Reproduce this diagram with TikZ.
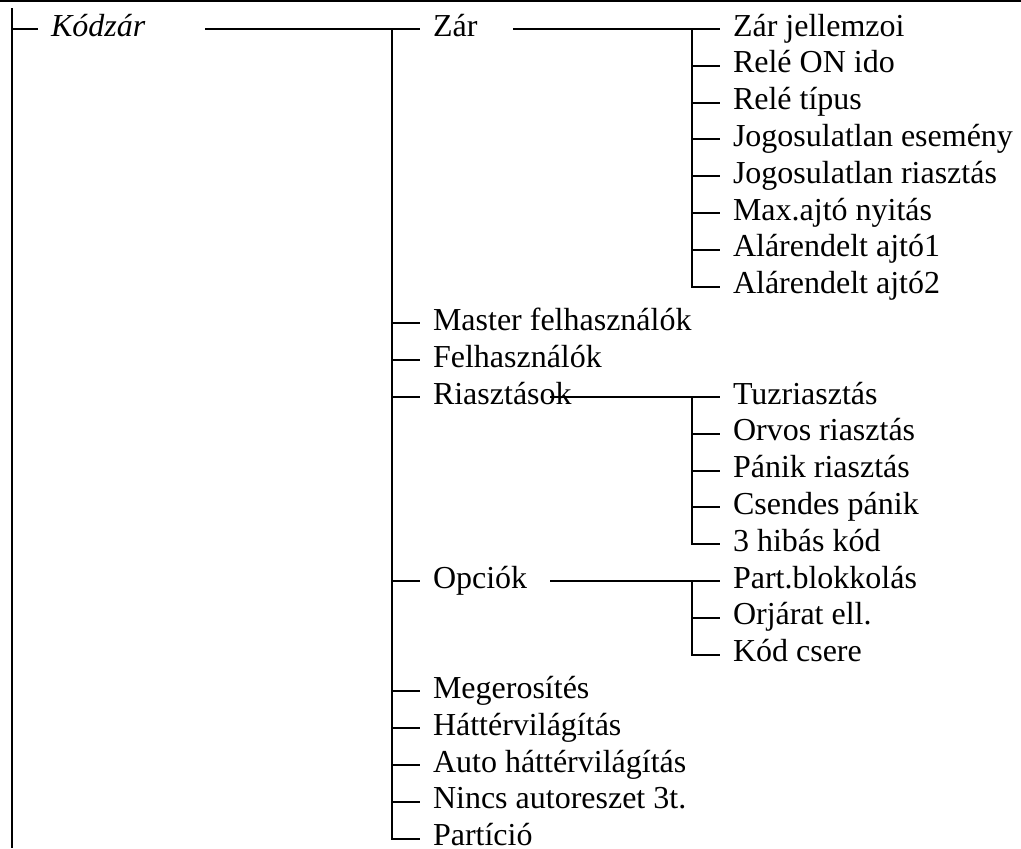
\documentclass[tikz,border=0pt]{standalone}
\usepackage{fontspec}
\setmainfont{Liberation Serif}
\tikzset{item/.style={anchor=west,inner xsep=6pt,inner ysep=0pt,text height=11pt,text depth=4pt,font=\fontsize{16}{19}\selectfont}}
\begin{document}
\begin{tikzpicture}[x=0.5pt,y=-0.5pt,line width=1pt]
 \useasboundingbox(0,0)rectangle(1021,848);
 \coordinate(top-l)at(0,1);\coordinate(top-r)at(1021,1);
 \draw(top-l)--(top-r);
 % root
 \coordinate(root)at(12,8);\coordinate(rootend)at(12,848);
 \node[item,font=\fontsize{16}{19}\selectfont\itshape](kodzar)at(38,29){Kódzár};
 \draw(root)--(rootend);\draw(root|-kodzar.west)--(kodzar.west);
 % level 1
 \foreach \n/\r/\t in {zar/0/Zár,master/8/Master felhasználók,felhasz/9/Felhasználók,riaszt/10/Riasztások,opciok/15/Opciók,megerosit/18/Megerosítés,hatter/19/Háttérvilágítás,autohatter/20/Auto háttérvilágítás,nincs/21/Nincs autoreszet 3t.,particio/22/Partíció}{\node[item](\n)at(420,{29+\r*36.8}){\t};}
 % level 2
 \foreach \n/\r/\t in {zarjell/0/Zár jellemzoi,releon/1/Relé ON ido,reletip/2/Relé típus,jogesem/3/Jogosulatlan esemény,jogriaszt/4/Jogosulatlan riasztás,maxajto/5/Max.ajtó nyitás,alar1/6/Alárendelt ajtó1,alar2/7/Alárendelt ajtó2,tuz/10/Tuzriasztás,orvos/11/Orvos riasztás,panik/12/Pánik riasztás,csendes/13/Csendes pánik,hibas/14/3 hibás kód,partblokk/15/Part.blokkolás,orjarat/16/Orjárat ell.,kodcsere/17/Kód csere}{\node[item](\n)at(720,{29+\r*36.8}){\t};}
 % connectors
 \coordinate(kodzar-out)at(205,29);\coordinate(bar1)at(392,29);
 \draw(kodzar-out)--(zar.west);\draw(bar1)|-(particio.west);
 \foreach \n in {master,felhasz,riaszt,opciok,megerosit,hatter,autohatter,nincs}{\draw(bar1|-\n.west)--(\n.west);}
 \coordinate(zar-out)at(513,29);\coordinate(bar2)at(692,29);
 \draw(zar-out)--(zarjell.west);\draw(bar2)|-(alar2.west);
 \foreach \n in {releon,reletip,jogesem,jogriaszt,maxajto,alar1}{\draw(bar2|-\n.west)--(\n.west);}
 \coordinate(riaszt-out)at(550,397);
 \draw(riaszt-out)--(tuz.west);\draw(bar2|-tuz.west)|-(hibas.west);
 \foreach \n in {orvos,panik,csendes}{\draw(bar2|-\n.west)--(\n.west);}
 \coordinate(opciok-out)at(550,581);
 \draw(opciok-out)--(partblokk.west);\draw(bar2|-partblokk.west)|-(kodcsere.west);
 \draw(bar2|-orjarat.west)--(orjarat.west);
\end{tikzpicture}
\end{document}
